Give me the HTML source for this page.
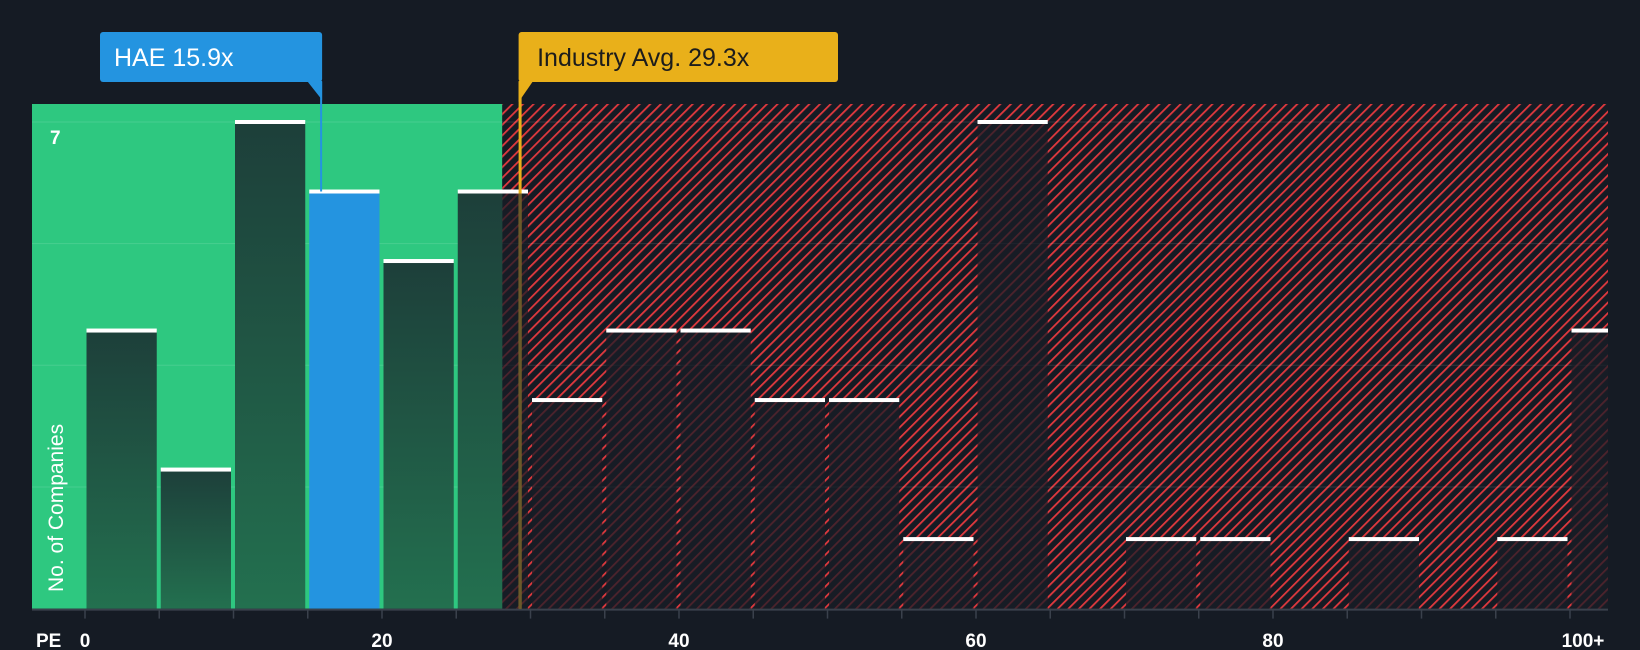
<!DOCTYPE html>
<html><head><meta charset="utf-8"><style>
html,body{margin:0;padding:0;background:#151b24;}
svg{display:block;font-family:"Liberation Sans",sans-serif;}
</style></head><body>
<svg id="chart" width="1640" height="650" viewBox="0 0 1640 650">
<defs>
<pattern id="hatch" patternUnits="userSpaceOnUse" width="7.5" height="10" patternTransform="rotate(45)">
<rect width="7.5" height="10" fill="#151b24"/>
<rect x="0" y="0" width="1.8" height="10" fill="#e0393e"/>
</pattern>
<linearGradient id="barg" x1="0" y1="0" x2="0" y2="1">
<stop offset="0" stop-color="#1d3f3a"/><stop offset="1" stop-color="#23704f"/>
</linearGradient>
</defs>
<g id="bg"></g>
<g id="grid"></g>
<g id="bars"></g>
<g id="axis"></g>
<g id="annot"></g>
</svg>
<script>
const binStarts = [0,5,10,15,20,25,30,35,40,45,50,55,60,65,70,75,80,85,90,95,100];
const counts = [4,2,7,6,5,6,3,4,4,3,3,1,7,0,1,1,0,1,0,1,4];
const xTicks = [0,20,40,60,80,100];
const xTickLabels = ["0","20","40","60","80","100+"];
const companyPE = 15.9;
const industryPE = 29.3;
const yMax = 7;

const NS="http://www.w3.org/2000/svg";
const plotLeft=32,plotRight=1608,plotTop=104,plotBase=608.6;
const x=v=>85+14.85*v;
const y=c=>plotBase-(plotBase-122)*c/yMax;
function mk(tag,attrs,parent){const e=document.createElementNS(NS,tag);for(const k in attrs)e.setAttribute(k,attrs[k]);parent.appendChild(e);return e;}
const bgG=document.getElementById('bg'),gridG=document.getElementById('grid'),barsG=document.getElementById('bars'),axisG=document.getElementById('axis'),annotG=document.getElementById('annot');
const split=x(28.1);
const darkFill='rgba(24,28,38,0.74)';
let r=mk('rect',{x:plotLeft,y:plotTop,width:split-plotLeft,height:plotBase-plotTop,fill:'#2ec880'},bgG);


r=mk('rect',{x:split,y:plotTop,width:plotRight-split,height:plotBase-plotTop,fill:'url(#hatch)'},bgG);


for(let i=1;i<=4;i++){const gy=y(yMax*i/4);
 const l=mk('line',{x1:plotLeft,x2:plotRight,y1:gy,y2:gy,stroke:'rgba(255,255,255,0.12)','stroke-width':1},gridG);
 
 }
binStarts.forEach((s,i)=>{
 const c=counts[i]; if(c<=0) return;
 const x0=x(s)+1.5, x1=(i===binStarts.length-1)?plotRight:x(s+5)-2.5;
 const yt=y(c);
 const isCo = companyPE>=s && companyPE<s+5;
 let fill;
 if(isCo) fill='#2494e0';
 else if(x1<=split) fill='url(#barg)';
 else fill=darkFill;
 const g=mk('g',{},barsG);
 
 
 if(!isCo && x0<split && x1>split){
  mk('rect',{x:x0,y:yt,width:split-x0,height:plotBase-yt,fill:'url(#barg)'},g);
  mk('rect',{x:split,y:yt,width:x1-split,height:plotBase-yt,fill:darkFill},g);
 } else mk('rect',{x:x0,y:yt,width:x1-x0,height:plotBase-yt,fill:fill},g);
 const cap=mk('rect',{x:x0,y:yt-2,width:x1-x0,height:4,fill:'#ffffff'},g);
 
 
});
let t=mk('text',{x:50,y:144,fill:'#fff','font-size':19,'font-weight':'bold'},axisG);t.textContent='7';


t=mk('text',{x:0,y:0,fill:'#fff','font-size':21,transform:'translate(63,592) rotate(-90)'},axisG);t.textContent='No. of Companies';


let ax=mk('line',{x1:plotLeft,x2:plotRight,y1:plotBase+1,y2:plotBase+1,stroke:'#3a414c','stroke-width':2},axisG);


for(let v=0;v<=100;v+=5){const tk=mk('line',{x1:x(v),x2:x(v),y1:plotBase,y2:plotBase+10,stroke:'#3a414c','stroke-width':1.5},axisG);
 
 }
xTicks.forEach((v,i)=>{const tx=mk('text',{x:x(v)+(i===xTickLabels.length-1?13:0),y:647,fill:'#fff','font-size':19,'font-weight':'bold','text-anchor':'middle'},axisG);
 tx.textContent=xTickLabels[i];
 
 });
t=mk('text',{x:36,y:647,fill:'#fff','font-size':19,'font-weight':'bold'},axisG);t.textContent='PE';


const cx=x(companyPE), ix=x(industryPE);
let ln=mk('line',{x1:cx,x2:cx,y1:82,y2:y(6),stroke:'#2494e0','stroke-width':2},annotG);


let cg=mk('g',{},annotG);


mk('rect',{x:100,y:32,width:cx-100+1,height:50,rx:3,fill:'#2494e0'},cg);
mk('polygon',{points:`${cx-14},81 ${cx+1},81 ${cx+1},100`,fill:'#2494e0'},cg);
t=mk('text',{x:114,y:66,fill:'#fff','font-size':25},cg);t.textContent='HAE 15.9x';
ln=mk('line',{x1:ix,x2:ix,y1:82,y2:plotBase,stroke:'#e9b01a','stroke-width':3},annotG);


ln=mk('line',{x1:ix,x2:ix,y1:y(6)+2,y2:plotBase,stroke:'#6b5a2a','stroke-width':3},annotG);


let ig=mk('g',{},annotG);


mk('rect',{x:ix-1.5,y:32,width:838-ix+1.5,height:50,rx:3,fill:'#e9b01a'},ig);
mk('polygon',{points:`${ix-1.5},81 ${ix+13},81 ${ix-1.5},102`,fill:'#e9b01a'},ig);
t=mk('text',{x:ix+17,y:66,fill:'#1c1c1c','font-size':25},ig);t.textContent='Industry Avg. 29.3x';
</script>
</body></html>
